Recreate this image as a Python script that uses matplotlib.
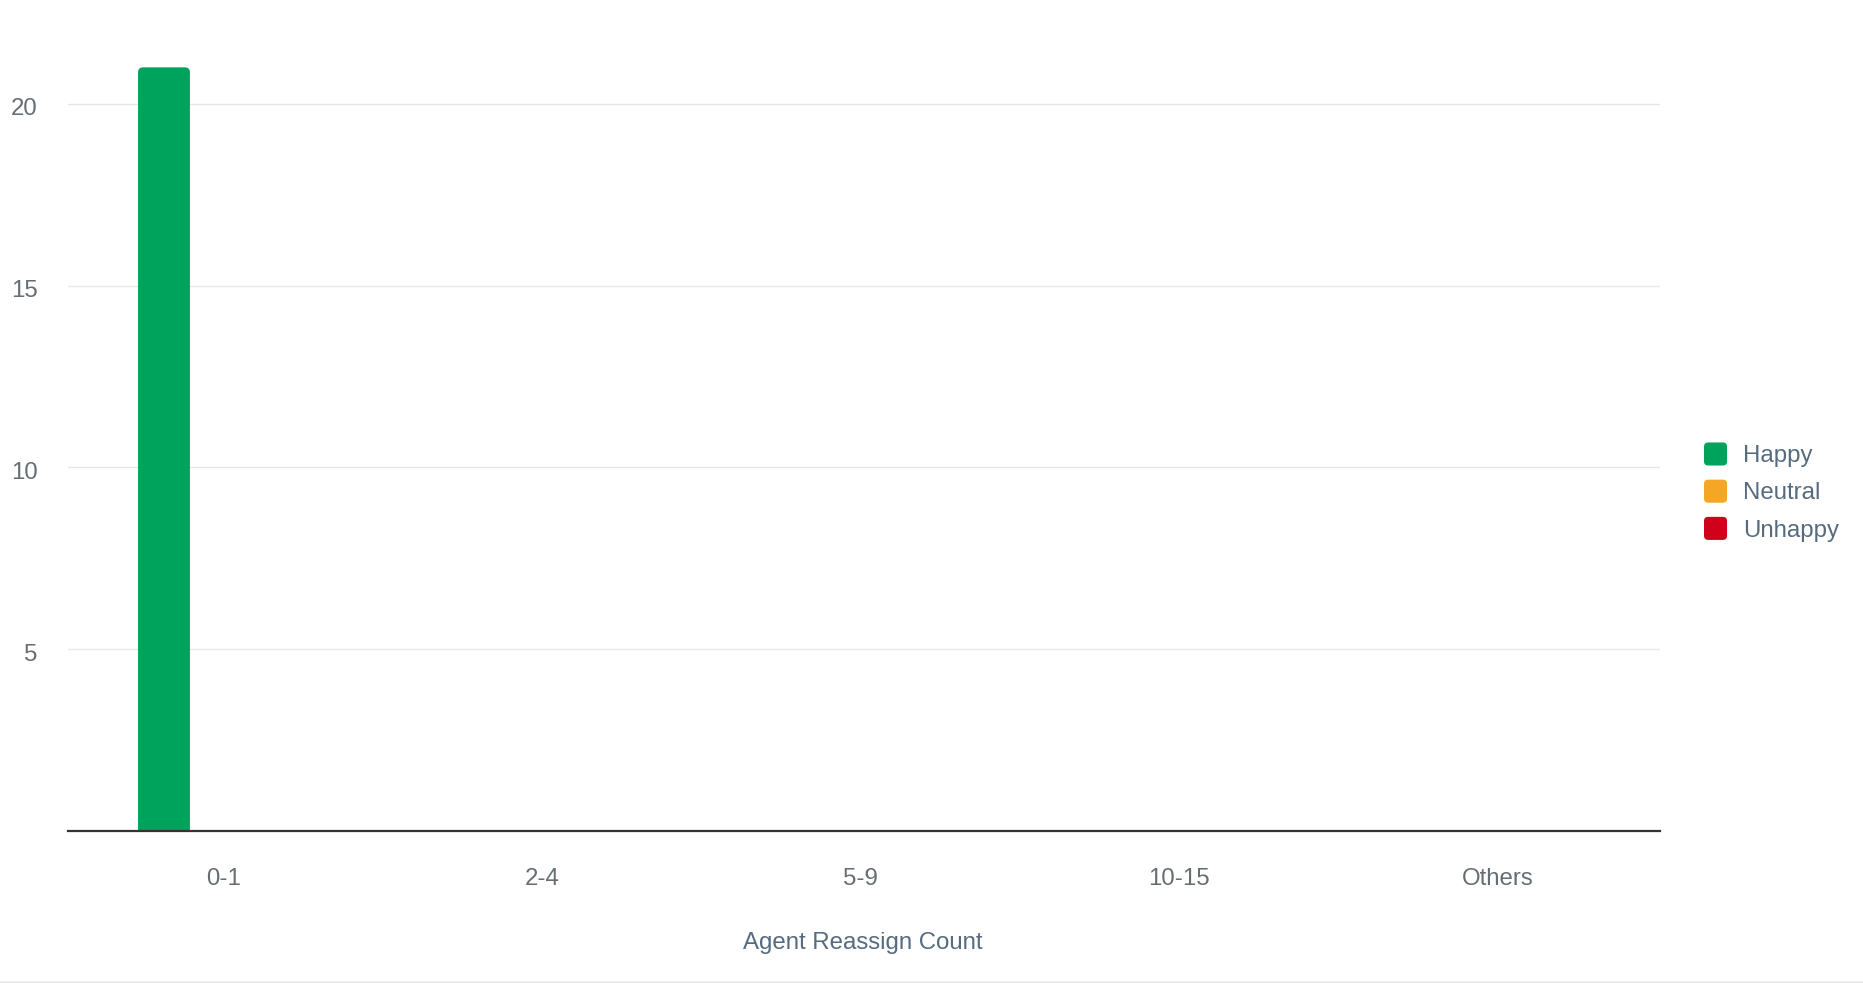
import matplotlib
matplotlib.use("Agg")
import matplotlib.pyplot as plt
from matplotlib.patches import FancyBboxPatch, Patch
from matplotlib.legend_handler import HandlerPatch
from matplotlib.lines import Line2D
from matplotlib.transforms import ScaledTranslation
import numpy as np

plt.rcParams['font.family'] = ['Liberation Sans', 'DejaVu Sans']

categories = ["0-1", "2-4", "5-9", "10-15", "Others"]
happy = [21, 0, 0, 0, 0]
neutral = [0, 0, 0, 0, 0]
unhappy = [0, 0, 0, 0, 0]
series_names = ["Happy", "Neutral", "Unhappy"]
series_colors = ["#00A35C", "#F5A623", "#D0021B"]
y_ticks = [5, 10, 15, 20]

W, H, DPI = 1863, 983, 100
FS = 17.3
AX_L, AX_R, AX_B, AX_T = 68, 1660, 831, 31
fig = plt.figure(figsize=(W / DPI, H / DPI), dpi=DPI)
ax = fig.add_axes([AX_L / W, 1 - AX_B / H, (AX_R - AX_L) / W, (AX_B - AX_T) / H])

x = np.arange(len(categories))
bar_w = 0.163
offset = 0.1985
series = [happy, neutral, unhappy]

ax.set_xlim(-0.5, len(categories) - 0.5)
ax.set_ylim(0, 22)

# rounded tops: corner radius in pixels, converted to data units per axis
px_x = (AX_R - AX_L) / len(categories)
px_y = (AX_B - AX_T) / 22
radius_px = 5
for i, (vals, color) in enumerate(zip(series, series_colors)):
    bars = ax.bar(x + (i - 1) * offset, vals, width=bar_w, color=color, zorder=3)
    for b in bars:
        h = b.get_height()
        if h <= 0:
            continue
        b.set_visible(False)
        r = radius_px / px_x
        fb = FancyBboxPatch((b.get_x() + r, -1),
                            b.get_width() - 2 * r, h + 1 - r * (px_x / px_y),
                            boxstyle=f"round,pad={r}",
                            mutation_aspect=px_x / px_y,
                            facecolor=color, edgecolor="none", zorder=3,
                            clip_on=True)
        ax.add_patch(fb)

ax.set_yticks(y_ticks)
ax.set_xticks(x)
ax.set_xticklabels(categories)
ax.grid(axis="y", color="#e6e6e6", linewidth=1.0, zorder=0)
ax.tick_params(axis="both", length=0, labelsize=FS, labelcolor="#666e73")
ax.tick_params(axis="y", pad=22)
ax.tick_params(axis="x", pad=26.5)
ydown = ScaledTranslation(0, -3 / DPI, fig.dpi_scale_trans)
for lbl in ax.get_yticklabels():
    lbl.set_va("center_baseline")
    lbl.set_transform(lbl.get_transform() + ydown)
xleft = ScaledTranslation(-3.5 / DPI, 0, fig.dpi_scale_trans)
for lbl in ax.get_xticklabels():
    lbl.set_transform(lbl.get_transform() + xleft)
for s in ["top", "right", "left"]:
    ax.spines[s].set_visible(False)
ax.spines["bottom"].set_color("#333333")
ax.spines["bottom"].set_linewidth(1.6)
ax.spines["bottom"].set_zorder(4)

fig.text(863 / W, 1 - 942.5 / H, "Agent Reassign Count", ha="center", va="center",
         fontsize=FS, color="#566b7e")


class RoundSquare(HandlerPatch):
    def create_artists(self, legend, orig_handle, xdescent, ydescent, width,
                       height, fontsize, trans):
        s = min(width, height)
        p = FancyBboxPatch((-xdescent + 3, -ydescent + (height - s) / 2 + 3),
                           s - 6, s - 6, boxstyle="round,pad=3",
                           facecolor=orig_handle.get_facecolor(),
                           edgecolor="none", transform=trans)
        return [p]


handles = [Patch(facecolor=c, label=n) for c, n in zip(series_colors, series_names)]
leg = fig.legend(handles=handles, loc="center left",
                 bbox_to_anchor=(1704 / W, 1 - 492 / H), frameon=False,
                 borderpad=0, borderaxespad=0,
                 fontsize=FS, handlelength=1.1, handleheight=1.1,
                 handletextpad=0.52, labelspacing=0.52,
                 handler_map={Patch: RoundSquare()})
for t in leg.get_texts():
    t.set_color("#566b7e")

fig.add_artist(Line2D([0, 1], [1 - 981.5 / H] * 2, color="#e8e8e8",
                      linewidth=1.2, transform=fig.transFigure))

fig.savefig("out.png", dpi=DPI, facecolor="white")
